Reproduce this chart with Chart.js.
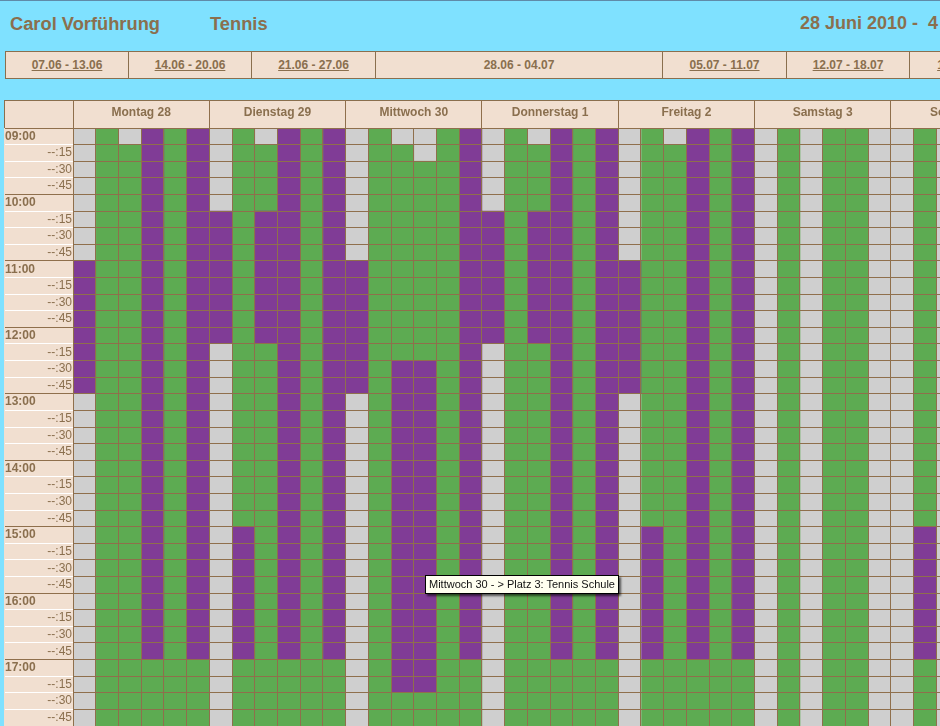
<!DOCTYPE html>
<html lang="de">
<head>
<meta charset="utf-8">
<title>Carol Vorführung Tennis</title>
<script src="https://cdn.jsdelivr.net/npm/chart.js@4"></script>
<style>
  html, body { margin: 0; padding: 0; width: 940px; height: 726px; overflow: hidden; background: #7fe1ff; }
  body { position: relative; font-family: "Liberation Sans", Arial, sans-serif; color: #8a6f4e; border-top: 1px solid #5f8aa8; box-sizing: border-box; }
  .title { position: absolute; top: 12px; font-size: 18px; font-weight: bold; white-space: nowrap; line-height: 21px; }
  #nav { position: absolute; left: 5px; top: 50px; height: 26px; width: 1100px; background: #f1dfd0; border: 1px solid #8a6f4e; font-size: 12px; font-weight: bold; }
  #nav div { position: absolute; top: 0; height: 26px; line-height: 26px; text-align: center; border-right: 1px solid #8a6f4e; box-sizing: border-box; }
  #nav u { text-decoration: underline; }
  #headBg { position: absolute; left: 4px; top: 99px; width: 940px; height: 27px; background: #f1dfd0; border-top: 1px solid #8a6f4e; border-left: 1px solid #8a6f4e; }
  #sideBg { position: absolute; left: 4px; top: 127px; width: 68px; height: 600px; background: #f1dfd0; border-left: 1px solid #f1dfd0; }
  #plan { position: absolute; left: 0; top: 99px; }
  #hint { position: absolute; left: 425px; top: 574px; width: 192px; height: 17px; line-height: 17px; background: #fffff0; border: 1px solid #000; box-shadow: 2px 2px 2px rgba(0,0,0,.6); color: #111; font: 11px/17px "Liberation Sans", Arial, sans-serif; white-space: nowrap; text-align: center; }
</style>
</head>
<body>
<div class="title" style="left:10px;font-size:18.3px">Carol Vorführung</div>
<div class="title" style="left:210px;font-size:18.3px">Tennis</div>
<div class="title" style="left:800px">28 Juni 2010 -&nbsp; 4 Juli 2010</div>
<div id="nav"></div>
<div id="headBg"></div>
<div id="sideBg"></div>
<canvas id="plan" width="960" height="626" style="width:960px;height:626px"></canvas>
<div id="hint">Mittwoch 30 - &gt; Platz 3: Tennis Schule</div>
<script>
const weeks = ['07.06 - 13.06', '14.06 - 20.06', '21.06 - 27.06', '28.06 - 04.07', '05.07 - 11.07', '12.07 - 18.07', '19.07 - 25.07'];
const weekEdges = [0, 123, 246, 370, 657, 781, 904, 1030];
const currentWeek = 3;

const dayLabels = ['Montag 28', 'Dienstag 29', 'Mittwoch 30', 'Donnerstag 1', 'Freitag 2', 'Samstag 3', 'Sonntag 4'];
const rowLabels = [
  '09:00', '--:15', '--:30', '--:45', '10:00', '--:15', '--:30', '--:45',
  '11:00', '--:15', '--:30', '--:45', '12:00', '--:15', '--:30', '--:45',
  '13:00', '--:15', '--:30', '--:45', '14:00', '--:15', '--:30', '--:45',
  '15:00', '--:15', '--:30', '--:45', '16:00', '--:15', '--:30', '--:45',
  '17:00', '--:15', '--:30', '--:45'
];

// one string per court, one group per hour: g = frei, G = gebucht, P = Schule
const montag = [
  'gggg gggg PPPP PPPP gggg gggg gggg gggg gggg',
  'GGGG GGGG GGGG GGGG GGGG GGGG GGGG GGGG GGGG',
  'gGGG GGGG GGGG GGGG GGGG GGGG GGGG GGGG GGGG',
  'PPPP PPPP PPPP PPPP PPPP PPPP PPPP PPPP GGGG',
  'GGGG GGGG GGGG GGGG GGGG GGGG GGGG GGGG GGGG',
  'PPPP PPPP PPPP PPPP PPPP PPPP PPPP PPPP GGGG'
];
const dienstag = [
  'gggg gPPP PPPP Pggg gggg gggg gggg gggg gggg',
  'GGGG GGGG GGGG GGGG GGGG GGGG PPPP PPPP GGGG',
  'gGGG GPPP PPPP PGGG GGGG GGGG GGGG GGGG GGGG',
  'PPPP PPPP PPPP PPPP PPPP PPPP PPPP PPPP GGGG',
  'GGGG GGGG GGGG GGGG GGGG GGGG GGGG GGGG GGGG',
  'PPPP PPPP PPPP PPPP PPPP PPPP PPPP PPPP GGGG'
];
const mittwoch = [
  'gggg gggg PPPP PPPP gggg gggg gggg gggg gggg',
  'GGGG GGGG GGGG GGGG GGGG GGGG GGGG GGGG GGGG',
  'gGGG GGGG GGGG GGPP PPPP PPPP PPPP PPPP PPGG',
  'ggGG GGGG GGGG GGPP PPPP PPPP PPPP PPPP PPGG',
  'GGGG GGGG GGGG GGGG GGGG GGGG GGGG GGGG GGGG',
  'PPPP PPPP PPPP PPPP PPPP PPPP PPPP PPPP GGGG'
];
const donnerstag = [
  'gggg gPPP PPPP Pggg gggg gggg gggg gggg gggg',
  'GGGG GGGG GGGG GGGG GGGG GGGG GGGG GGGG GGGG',
  'gGGG GPPP PPPP PGGG GGGG GGGG GGGG GGGG GGGG',
  'PPPP PPPP PPPP PPPP PPPP PPPP PPPP PPPP GGGG',
  'GGGG GGGG GGGG GGGG GGGG GGGG GGGG GGGG GGGG',
  'PPPP PPPP PPPP PPPP PPPP PPPP PPPP PPPP GGGG'
];
const freitag = [
  'gggg gggg PPPP PPPP gggg gggg gggg gggg gggg',
  'GGGG GGGG GGGG GGGG GGGG GGGG PPPP PPPP GGGG',
  'gGGG GGGG GGGG GGGG GGGG GGGG GGGG GGGG GGGG',
  'PPPP PPPP PPPP PPPP PPPP PPPP PPPP PPPP GGGG',
  'GGGG GGGG GGGG GGGG GGGG GGGG GGGG GGGG GGGG',
  'PPPP PPPP PPPP PPPP PPPP PPPP PPPP PPPP GGGG'
];
const samstag = [
  'gggg gggg gggg gggg gggg gggg gggg gggg gggg',
  'GGGG GGGG GGGG GGGG GGGG GGGG GGGG GGGG GGGG',
  'gggg gggg gggg gggg gggg gggg gggg gggg gggg',
  'GGGG GGGG GGGG GGGG GGGG GGGG GGGG GGGG GGGG',
  'GGGG GGGG GGGG GGGG GGGG GGGG GGGG GGGG GGGG',
  'gggg gggg gggg gggg gggg gggg gggg gggg gggg'
];
// only the first three courts of Sunday fit in the window
const sonntag = [
  'gggg gggg gggg gggg gggg gggg gggg gggg gggg',
  'GGGG GGGG GGGG GGGG GGGG GGGG PPPP PPPP GGGG',
  'gggg gggg gggg gggg gggg gggg gggg gggg gggg'
];

const courts = [...montag, ...dienstag, ...mittwoch, ...donnerstag, ...freitag, ...samstag, ...sonntag];
const cellColors = { g: '#cfcfcf', G: '#5dab52', P: '#803c96' };
const lineColor = '#8f6f4c';
const textColor = '#8a6f4e';
const labelFont = '"Liberation Sans", Arial, sans-serif';

document.getElementById('nav').innerHTML = weeks
  .map((week, i) => {
    const style = `left:${weekEdges[i]}px;width:${weekEdges[i + 1] - weekEdges[i]}px`;
    return `<div style="${style}">${i === currentWeek ? week : `<u>${week}</u>`}</div>`;
  })
  .join('');

const datasets = courts.map((court) => {
  const cells = court.replace(/ /g, '').split('');
  return {
    data: cells.map(() => 1),
    backgroundColor: cells.map((c) => cellColors[c]),
    borderWidth: 0,
    barPercentage: 1,
    categoryPercentage: 1,
    yAxisID: 'y'
  };
});

// labels hanging over the plot edge must not shrink the grid
function dropLabelPadding(scale) {
  scale.paddingLeft = 0;
  scale.paddingRight = 0;
  scale.paddingTop = 0;
  scale.paddingBottom = 0;
}

new Chart(document.getElementById('plan'), {
  type: 'bar',
  data: { labels: rowLabels, datasets },
  options: {
    indexAxis: 'y',
    responsive: false,
    animation: false,
    events: [],
    layout: { padding: { right: 1, bottom: 0 } },
    plugins: { legend: { display: false }, tooltip: { enabled: false } },
    scales: {
      x: {
        position: 'top',
        stacked: true,
        min: 0,
        max: courts.length,
        afterBuildTicks: (scale) => {
          scale.ticks = courts.concat('').map((c, i) => ({ value: i }));
        },
        afterFit: (scale) => {
          scale.height = 28;
          dropLabelPadding(scale);
        },
        border: { display: false },
        grid: {
          z: 1,
          color: lineColor,
          tickLength: 28,
          tickColor: (ctx) => (ctx.tick && ctx.tick.value % 6 === 0 ? lineColor : 'transparent')
        },
        ticks: {
          autoSkip: false,
          maxRotation: 0,
          padding: -20,
          color: textColor,
          font: { family: labelFont, size: 12, weight: 'bold' },
          callback: (value) => (value % 6 === 3 ? dayLabels[(value - 3) / 6] : '')
        }
      },
      y: {
        stacked: true,
        weight: 0,
        afterFit: (scale) => {
          scale.width = 68;
          dropLabelPadding(scale);
        },
        border: { display: false },
        grid: {
          z: 1,
          offset: true,
          color: lineColor,
          tickLength: 68,
          tickColor: (ctx) => (ctx.index === undefined || ctx.index % 4 === 0 ? lineColor : '#ffffff')
        },
        ticks: {
          autoSkip: false,
          padding: -67,
          color: textColor,
          font: { family: labelFont, size: 12 },
          callback: (value, i) => (i % 4 === 0 ? '' : rowLabels[i])
        }
      },
      yHours: {
        type: 'category',
        labels: rowLabels,
        position: 'left',
        weight: 1,
        afterFit: (scale) => {
          scale.width = 5;
          dropLabelPadding(scale);
        },
        border: { display: false },
        grid: { display: false, offset: true },
        ticks: {
          autoSkip: false,
          mirror: true,
          padding: 0,
          color: textColor,
          font: { family: labelFont, size: 12, weight: 'bold' },
          callback: (value, i) => (i % 4 === 0 ? rowLabels[i] : '')
        }
      }
    }
  }
});
</script>
</body>
</html>
